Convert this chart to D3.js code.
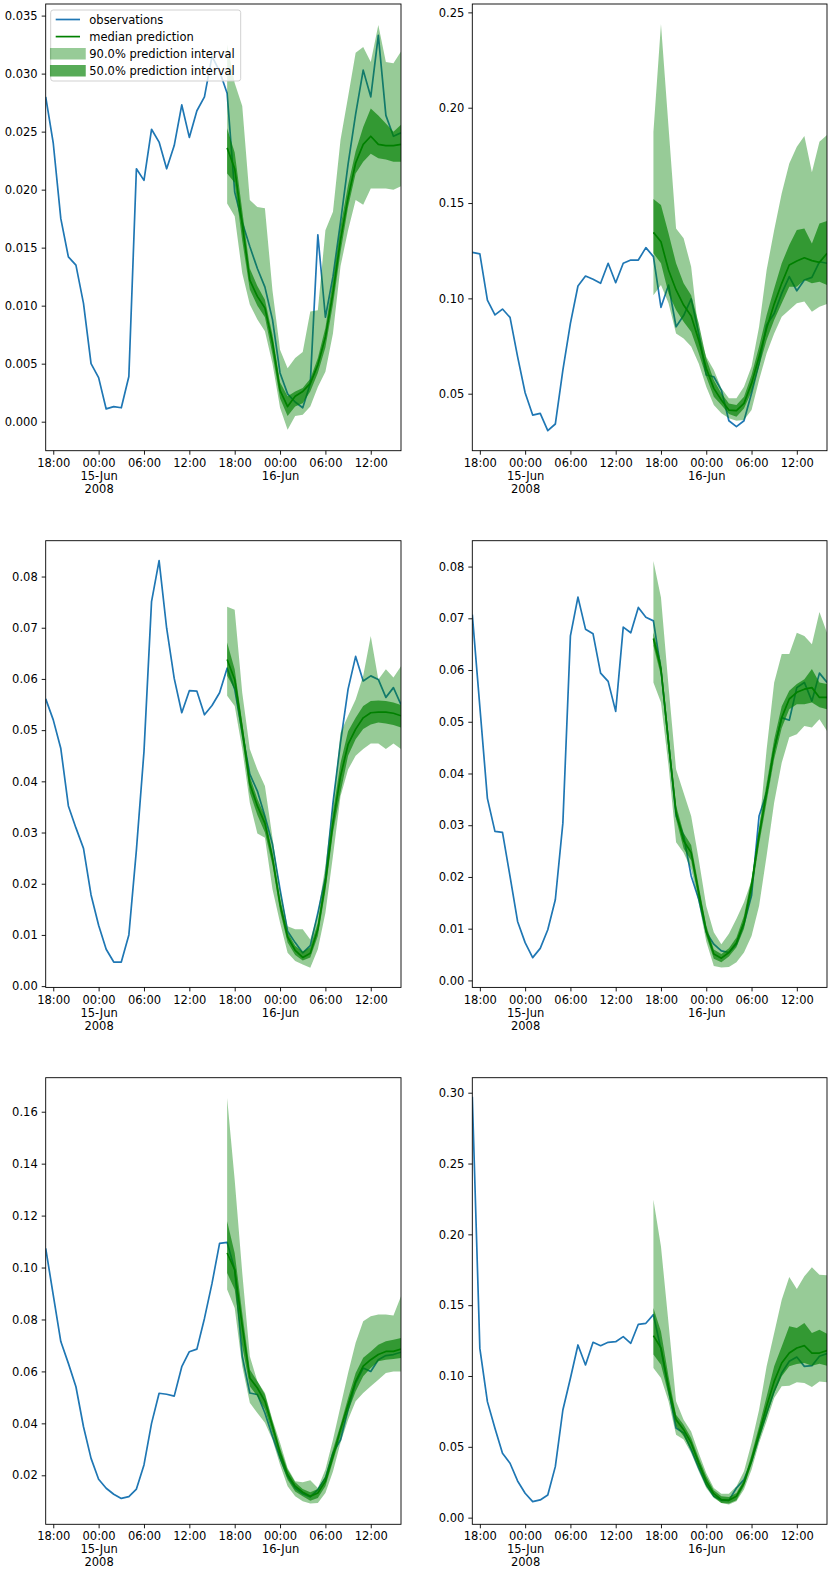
<!DOCTYPE html>
<meta charset="utf-8">
<head>
<style>
  body { margin: 0; background: #fff; }
  svg text { font-family: "DejaVu Sans", sans-serif; font-size: 11.5px; fill: #000; }
</style>
</head>
<body>
<div id="chart"></div>
<script src="https://d3js.org/d3.v7.min.js"></script>
<script>
// hourly index: 14-Jun-2008 17:00 .. 16-Jun-2008 16:00, forecast = last 24 hours
var start = Date.UTC(2008, 5, 14, 17);
var hours = d3.range(48).map(function(i) { return new Date(start + i * 3600e3); });
var fcHours = hours.slice(24);

// one series per panel (left to right, top to bottom)
var obs = [
  [0.0280, 0.0240, 0.0175, 0.0142, 0.0135, 0.0102, 0.0050, 0.0038, 0.0011, 0.0013, 0.0012, 0.0039,
   0.0218, 0.0208, 0.0252, 0.0241, 0.0218, 0.0238, 0.0273, 0.0245, 0.0268, 0.0280, 0.0315, 0.0302,
   0.0283, 0.0198, 0.0172, 0.0151, 0.0132, 0.0116, 0.0088, 0.0042, 0.0024, 0.0017, 0.0012, 0.0033,
   0.0161, 0.0090, 0.0125, 0.0172, 0.0222, 0.0265, 0.0303, 0.0280, 0.0333, 0.0264, 0.0246, 0.0249],
  [0.1241, 0.1233, 0.0991, 0.0913, 0.0944, 0.0900, 0.0694, 0.0505, 0.0388, 0.0397, 0.0306, 0.0341,
   0.0624, 0.0869, 0.1065, 0.1117, 0.1100, 0.1079, 0.1184, 0.1082, 0.1184, 0.1201, 0.1201, 0.1266,
   0.1219, 0.0953, 0.1070, 0.0851, 0.0910, 0.0997, 0.0816, 0.0598, 0.0589, 0.0519, 0.0358, 0.0327,
   0.0358, 0.0502, 0.0659, 0.0860, 0.0921, 0.1026, 0.1114, 0.1040, 0.1096, 0.1110, 0.1192, 0.1184],
  [0.0561, 0.0520, 0.0464, 0.0352, 0.0309, 0.0269, 0.0178, 0.0119, 0.0072, 0.0047, 0.0047, 0.0100,
   0.0266, 0.0458, 0.0751, 0.0831, 0.0699, 0.0601, 0.0534, 0.0577, 0.0576, 0.0530, 0.0548, 0.0573,
   0.0621, 0.0580, 0.0495, 0.0414, 0.0381, 0.0332, 0.0277, 0.0189, 0.0107, 0.0085, 0.0065, 0.0079,
   0.0143, 0.0212, 0.0358, 0.0476, 0.0580, 0.0644, 0.0596, 0.0606, 0.0599, 0.0564, 0.0583, 0.0550],
  [0.0707, 0.0529, 0.0352, 0.0288, 0.0286, 0.0201, 0.0114, 0.0073, 0.0044, 0.0062, 0.0098, 0.0156,
   0.0304, 0.0666, 0.0741, 0.0679, 0.0670, 0.0594, 0.0578, 0.0520, 0.0683, 0.0672, 0.0721, 0.0702,
   0.0695, 0.0600, 0.0460, 0.0318, 0.0280, 0.0202, 0.0157, 0.0093, 0.0070, 0.0057, 0.0054, 0.0070,
   0.0109, 0.0164, 0.0318, 0.0363, 0.0447, 0.0508, 0.0503, 0.0566, 0.0576, 0.0540, 0.0594, 0.0576],
  [0.1074, 0.0894, 0.0715, 0.0631, 0.0541, 0.0387, 0.0265, 0.0185, 0.0150, 0.0127, 0.0111, 0.0118,
   0.0147, 0.0240, 0.0400, 0.0516, 0.0512, 0.0505, 0.0618, 0.0676, 0.0686, 0.0804, 0.0939, 0.1093,
   0.1097, 0.0992, 0.0658, 0.0517, 0.0511, 0.0440, 0.0350, 0.0267, 0.0196, 0.0151, 0.0129, 0.0117,
   0.0145, 0.0190, 0.0286, 0.0337, 0.0453, 0.0556, 0.0613, 0.0600, 0.0645, 0.0661, 0.0665, 0.0674],
  [0.2972, 0.1195, 0.0819, 0.0631, 0.0454, 0.0384, 0.0259, 0.0172, 0.0113, 0.0125, 0.0160, 0.0360,
   0.0760, 0.0984, 0.1219, 0.1078, 0.1238, 0.1214, 0.1238, 0.1242, 0.1278, 0.1231, 0.1365, 0.1372,
   0.1433, 0.1186, 0.0904, 0.0633, 0.0598, 0.0480, 0.0351, 0.0233, 0.0151, 0.0122, 0.0122, 0.0209,
   0.0268, 0.0398, 0.0574, 0.0739, 0.0892, 0.1021, 0.1104, 0.1134, 0.1068, 0.1073, 0.1139, 0.1158]
];

var median = [
  [0.0236, 0.0218, 0.0170, 0.0122, 0.0108, 0.0098, 0.0068, 0.0027, 0.0013, 0.0022, 0.0026, 0.0033,
   0.0049, 0.0073, 0.0111, 0.0157, 0.0193, 0.0223, 0.0239, 0.0246, 0.0239, 0.0238, 0.0238, 0.0239],
  [0.1346, 0.1297, 0.1149, 0.1044, 0.0965, 0.0907, 0.0781, 0.0633, 0.0528, 0.0467, 0.0414, 0.0411,
   0.0449, 0.0554, 0.0694, 0.0843, 0.0970, 0.1079, 0.1175, 0.1196, 0.1213, 0.1198, 0.1189, 0.1236],
  [0.0638, 0.0599, 0.0502, 0.0395, 0.0352, 0.0318, 0.0250, 0.0160, 0.0096, 0.0070, 0.0056, 0.0064,
   0.0111, 0.0202, 0.0319, 0.0410, 0.0472, 0.0502, 0.0524, 0.0534, 0.0535, 0.0535, 0.0533, 0.0528],
  [0.0661, 0.0602, 0.0460, 0.0325, 0.0270, 0.0247, 0.0170, 0.0096, 0.0051, 0.0043, 0.0054, 0.0073,
   0.0112, 0.0183, 0.0280, 0.0363, 0.0447, 0.0508, 0.0544, 0.0557, 0.0563, 0.0566, 0.0547, 0.0547],
  [0.1056, 0.0992, 0.0774, 0.0575, 0.0536, 0.0485, 0.0389, 0.0286, 0.0203, 0.0158, 0.0135, 0.0119,
   0.0132, 0.0177, 0.0273, 0.0376, 0.0472, 0.0562, 0.0620, 0.0645, 0.0665, 0.0677, 0.0677, 0.0686],
  [0.1285, 0.1198, 0.0927, 0.0692, 0.0621, 0.0527, 0.0386, 0.0256, 0.0169, 0.0127, 0.0122, 0.0151,
   0.0245, 0.0409, 0.0598, 0.0786, 0.0962, 0.1092, 0.1162, 0.1198, 0.1214, 0.1162, 0.1162, 0.1179]
];

// 50% interval bounds
var p25 = [
  [0.0214, 0.0206, 0.0156, 0.0114, 0.0100, 0.0090, 0.0058, 0.0020, 0.0005, 0.0013, 0.0016, 0.0026,
   0.0042, 0.0064, 0.0101, 0.0146, 0.0185, 0.0214, 0.0224, 0.0231, 0.0227, 0.0226, 0.0224, 0.0224],
  [0.1236, 0.1184, 0.1026, 0.0939, 0.0878, 0.0825, 0.0712, 0.0589, 0.0484, 0.0441, 0.0393, 0.0379,
   0.0423, 0.0510, 0.0642, 0.0781, 0.0886, 0.0974, 0.1061, 0.1061, 0.1096, 0.1079, 0.1087, 0.1070],
  [0.0606, 0.0580, 0.0482, 0.0378, 0.0334, 0.0300, 0.0236, 0.0146, 0.0085, 0.0061, 0.0050, 0.0056,
   0.0098, 0.0186, 0.0300, 0.0378, 0.0450, 0.0482, 0.0502, 0.0511, 0.0515, 0.0513, 0.0510, 0.0505],
  [0.0647, 0.0589, 0.0445, 0.0312, 0.0255, 0.0232, 0.0157, 0.0086, 0.0042, 0.0035, 0.0046, 0.0064,
   0.0100, 0.0168, 0.0263, 0.0345, 0.0428, 0.0488, 0.0524, 0.0534, 0.0534, 0.0537, 0.0528, 0.0524],
  [0.0979, 0.0915, 0.0697, 0.0543, 0.0504, 0.0453, 0.0363, 0.0260, 0.0183, 0.0138, 0.0119, 0.0102,
   0.0113, 0.0158, 0.0254, 0.0350, 0.0446, 0.0523, 0.0581, 0.0613, 0.0639, 0.0645, 0.0648, 0.0652],
  [0.1151, 0.1080, 0.0868, 0.0645, 0.0574, 0.0480, 0.0351, 0.0221, 0.0146, 0.0104, 0.0099, 0.0122,
   0.0221, 0.0374, 0.0551, 0.0715, 0.0880, 0.0998, 0.1068, 0.1085, 0.1092, 0.1073, 0.1087, 0.1073]
];
var p75 = [
  [0.0253, 0.0232, 0.0182, 0.0132, 0.0117, 0.0105, 0.0075, 0.0034, 0.0022, 0.0026, 0.0029, 0.0037,
   0.0055, 0.0081, 0.0122, 0.0168, 0.0204, 0.0233, 0.0254, 0.0270, 0.0264, 0.0257, 0.0250, 0.0256],
  [0.1521, 0.1490, 0.1341, 0.1184, 0.1079, 0.1017, 0.0869, 0.0685, 0.0572, 0.0502, 0.0449, 0.0441,
   0.0484, 0.0598, 0.0747, 0.0913, 0.1052, 0.1184, 0.1280, 0.1358, 0.1367, 0.1288, 0.1393, 0.1406],
  [0.0671, 0.0619, 0.0515, 0.0410, 0.0366, 0.0332, 0.0262, 0.0171, 0.0105, 0.0079, 0.0067, 0.0076,
   0.0124, 0.0218, 0.0339, 0.0436, 0.0498, 0.0524, 0.0547, 0.0557, 0.0558, 0.0557, 0.0554, 0.0549],
  [0.0672, 0.0615, 0.0475, 0.0338, 0.0285, 0.0262, 0.0183, 0.0106, 0.0060, 0.0051, 0.0062, 0.0083,
   0.0125, 0.0197, 0.0297, 0.0381, 0.0466, 0.0530, 0.0560, 0.0573, 0.0582, 0.0602, 0.0576, 0.0573],
  [0.1178, 0.1056, 0.0825, 0.0607, 0.0562, 0.0511, 0.0408, 0.0305, 0.0222, 0.0173, 0.0147, 0.0135,
   0.0147, 0.0196, 0.0299, 0.0395, 0.0498, 0.0594, 0.0653, 0.0677, 0.0703, 0.0716, 0.0722, 0.0729],
  [0.1480, 0.1315, 0.0998, 0.0727, 0.0656, 0.0562, 0.0421, 0.0292, 0.0193, 0.0151, 0.0146, 0.0174,
   0.0268, 0.0445, 0.0645, 0.0856, 0.1068, 0.1209, 0.1351, 0.1339, 0.1374, 0.1304, 0.1327, 0.1299]
];

// 90% interval bounds
var p05 = [
  [0.0188, 0.0177, 0.0128, 0.0101, 0.0088, 0.0078, 0.0050, 0.0012, -0.0007, 0.0005, 0.0006, 0.0013,
   0.0030, 0.0043, 0.0076, 0.0134, 0.0165, 0.0191, 0.0187, 0.0201, 0.0201, 0.0201, 0.0200, 0.0203],
  [0.1017, 0.1070, 0.0974, 0.0816, 0.0790, 0.0747, 0.0659, 0.0537, 0.0441, 0.0397, 0.0371, 0.0358,
   0.0362, 0.0414, 0.0572, 0.0712, 0.0816, 0.0904, 0.0939, 0.0974, 0.0983, 0.0930, 0.0956, 0.0970],
  [0.0567, 0.0547, 0.0463, 0.0358, 0.0298, 0.0290, 0.0189, 0.0124, 0.0065, 0.0049, 0.0042, 0.0036,
   0.0072, 0.0143, 0.0254, 0.0371, 0.0423, 0.0450, 0.0463, 0.0474, 0.0474, 0.0463, 0.0474, 0.0463],
  [0.0576, 0.0537, 0.0415, 0.0267, 0.0247, 0.0215, 0.0150, 0.0075, 0.0028, 0.0025, 0.0026, 0.0035,
   0.0054, 0.0086, 0.0144, 0.0241, 0.0344, 0.0421, 0.0470, 0.0476, 0.0492, 0.0489, 0.0505, 0.0482],
  [0.0915, 0.0844, 0.0620, 0.0479, 0.0440, 0.0402, 0.0337, 0.0241, 0.0158, 0.0119, 0.0100, 0.0091,
   0.0093, 0.0132, 0.0215, 0.0325, 0.0414, 0.0485, 0.0517, 0.0543, 0.0568, 0.0594, 0.0600, 0.0600],
  [0.1056, 0.0986, 0.0821, 0.0586, 0.0551, 0.0456, 0.0327, 0.0209, 0.0139, 0.0104, 0.0092, 0.0115,
   0.0198, 0.0339, 0.0527, 0.0680, 0.0845, 0.0927, 0.0932, 0.0955, 0.0951, 0.0922, 0.0962, 0.0955]
];
var p95 = [
  [0.0325, 0.0292, 0.0272, 0.0191, 0.0185, 0.0184, 0.0113, 0.0062, 0.0046, 0.0055, 0.0060, 0.0095,
   0.0096, 0.0165, 0.0181, 0.0243, 0.0280, 0.0318, 0.0323, 0.0310, 0.0342, 0.0310, 0.0309, 0.0319],
  [0.1874, 0.2439, 0.1900, 0.1367, 0.1315, 0.1166, 0.0816, 0.0694, 0.0624, 0.0528, 0.0476, 0.0476,
   0.0537, 0.0642, 0.0851, 0.1149, 0.1358, 0.1551, 0.1708, 0.1795, 0.1851, 0.1661, 0.1822, 0.1857],
  [0.0741, 0.0735, 0.0573, 0.0463, 0.0423, 0.0391, 0.0290, 0.0189, 0.0117, 0.0111, 0.0111, 0.0091,
   0.0143, 0.0235, 0.0358, 0.0495, 0.0528, 0.0560, 0.0606, 0.0684, 0.0599, 0.0619, 0.0603, 0.0625],
  [0.0811, 0.0740, 0.0569, 0.0408, 0.0363, 0.0318, 0.0234, 0.0144, 0.0093, 0.0070, 0.0090, 0.0119,
   0.0151, 0.0193, 0.0292, 0.0447, 0.0576, 0.0631, 0.0631, 0.0672, 0.0666, 0.0650, 0.0712, 0.0672],
  [0.1653, 0.1338, 0.0980, 0.0658, 0.0562, 0.0517, 0.0414, 0.0325, 0.0228, 0.0177, 0.0173, 0.0181,
   0.0151, 0.0222, 0.0337, 0.0466, 0.0594, 0.0710, 0.0793, 0.0812, 0.0819, 0.0819, 0.0815, 0.0889],
  [0.2245, 0.1915, 0.1374, 0.0821, 0.0692, 0.0609, 0.0456, 0.0315, 0.0209, 0.0169, 0.0169, 0.0221,
   0.0327, 0.0527, 0.0762, 0.1068, 0.1304, 0.1539, 0.1699, 0.1614, 0.1704, 0.1767, 0.1715, 0.1711]
];

var yDomains = [[-0.0025, 0.0360], [0.0201, 0.2544], [-0.00025, 0.0870], [-0.00135, 0.0850], [0.00113, 0.1731], [-0.0047, 0.3106]];
var yTicks = [
  [0.000, 0.005, 0.010, 0.015, 0.020, 0.025, 0.030, 0.035],
  [0.05, 0.10, 0.15, 0.20, 0.25],
  [0.00, 0.01, 0.02, 0.03, 0.04, 0.05, 0.06, 0.07, 0.08],
  [0.00, 0.01, 0.02, 0.03, 0.04, 0.05, 0.06, 0.07, 0.08],
  [0.02, 0.04, 0.06, 0.08, 0.10, 0.12, 0.14, 0.16],
  [0.00, 0.05, 0.10, 0.15, 0.20, 0.25, 0.30]
];
var yFormats = [".3f", ".2f", ".2f", ".2f", ".2f", ".2f"];
var legendLabels = ["observations", "median prediction", "90.0% prediction interval", "50.0% prediction interval"];

// layout of the 3x2 grid (axes boxes in pixels)
var colX = [[45.7, 401], [472.3, 827]];
var rowY = [[4, 450.7], [540.7, 987.4], [1077.7, 1524.3]];
var blue = "#1f77b4", green = "#008000";
var alpha90 = Math.pow(0.05, 0.3), alpha50 = Math.pow(0.25, 0.3);

var svg = d3.select("#chart").append("svg")
    .attr("width", 831)
    .attr("height", 1575);

var hm = d3.utcFormat("%H:%M"), dm = d3.utcFormat("%d-%b"), yr = d3.utcFormat("%Y");

obs.forEach(function(series, k) {
  var col = k % 2, row = Math.floor(k / 2);
  var x0 = colX[col][0], x1 = colX[col][1], y0 = rowY[row][0], y1 = rowY[row][1];

  var x = d3.scaleUtc().domain([hours[0], hours[47]]).range([x0, x1]);
  var y = d3.scaleLinear().domain(yDomains[k]).range([y1, y0]);

  var g = svg.append("g");
  g.append("clipPath").attr("id", "clip" + k)
    .append("rect")
      .attr("x", x0).attr("y", y0)
      .attr("width", x1 - x0).attr("height", y1 - y0);

  var plot = g.append("g").attr("clip-path", "url(#clip" + k + ")");

  var obsLine = d3.line()
      .x(function(d, i) { return x(hours[i]); })
      .y(function(d) { return y(d); });
  var fcLine = d3.line()
      .x(function(d, i) { return x(fcHours[i]); })
      .y(function(d) { return y(d); });
  function band(lo, hi) {
    return d3.area()
      .x(function(d, i) { return x(fcHours[i]); })
      .y0(function(d, i) { return y(lo[i]); })
      .y1(function(d, i) { return y(hi[i]); });
  }

  plot.append("path")
      .datum(series)
      .attr("d", obsLine)
      .attr("fill", "none")
      .attr("stroke", blue)
      .attr("stroke-width", 1.7)
      .attr("stroke-linejoin", "round");

  plot.append("path")
      .datum(median[k])
      .attr("d", fcLine)
      .attr("fill", "none")
      .attr("stroke", green)
      .attr("stroke-width", 1.7)
      .attr("stroke-linejoin", "round");

  plot.append("path")
      .datum(p05[k])
      .attr("d", band(p05[k], p95[k]))
      .attr("fill", green)
      .attr("fill-opacity", alpha90);

  plot.append("path")
      .datum(p25[k])
      .attr("d", band(p25[k], p75[k]))
      .attr("fill", green)
      .attr("fill-opacity", alpha50);

  // y axis
  var gy = g.append("g")
      .attr("transform", "translate(" + x0 + ",0)")
      .call(d3.axisLeft(y)
        .tickValues(yTicks[k])
        .tickFormat(d3.format(yFormats[k]))
        .tickSize(4)
        .tickPadding(4));
  gy.select(".domain").remove();
  gy.selectAll(".tick line").attr("stroke-width", 0.9);

  // x axis, with date lines under midnight ticks
  var gx = g.append("g")
      .attr("transform", "translate(0," + y1 + ")")
      .call(d3.axisBottom(x)
        .ticks(d3.utcHour.every(6))
        .tickFormat("")
        .tickSize(4)
        .tickPadding(4));
  gx.select(".domain").remove();
  gx.selectAll(".tick line").attr("stroke-width", 0.9);
  var firstMidnight = true;
  gx.selectAll(".tick text").each(function(d) {
    var t = d3.select(this).attr("dy", null).text(null);
    var lines = [hm(d)];
    if (d.getUTCHours() === 0) {
      lines.push(dm(d));
      if (firstMidnight) { lines.push(yr(d)); firstMidnight = false; }
    }
    lines.forEach(function(s, i) {
      t.append("tspan").attr("x", 0).attr("dy", i ? "1.13em" : "0.71em").text(s);
    });
  });

  // frame
  g.append("rect")
      .attr("x", x0).attr("y", y0)
      .attr("width", x1 - x0).attr("height", y1 - y0)
      .attr("fill", "none")
      .attr("stroke", "#000")
      .attr("stroke-width", 0.9);

  if (k === 0) {
    var lg = g.append("g");
    lg.append("rect")
        .attr("x", x0 + 5).attr("y", y0 + 6)
        .attr("width", 190).attr("height", 71)
        .attr("rx", 2.5)
        .attr("fill", "#fff").attr("fill-opacity", 0.8)
        .attr("stroke", "#ccc").attr("stroke-width", 0.9);
    var handles = [
      {color: blue, width: 1.7, opacity: 1, cap: "butt"},
      {color: green, width: 1.7, opacity: 1, cap: "butt"},
      {color: green, width: 11.5, opacity: alpha90, cap: "square"},
      {color: green, width: 11.5, opacity: alpha50, cap: "square"}
    ];
    legendLabels.forEach(function(label, i) {
      var cy = y0 + 15.5 + i * 17.1;
      lg.append("line")
          .attr("x1", x0 + 10).attr("x2", x0 + 34.3)
          .attr("y1", cy).attr("y2", cy)
          .attr("stroke", handles[i].color)
          .attr("stroke-width", handles[i].width)
          .attr("stroke-opacity", handles[i].opacity)
          .attr("stroke-linecap", handles[i].cap);
      lg.append("text")
          .attr("x", x0 + 43.6).attr("y", cy)
          .attr("dy", "0.35em")
          .text(label);
    });
  }
});
</script>
</body>
